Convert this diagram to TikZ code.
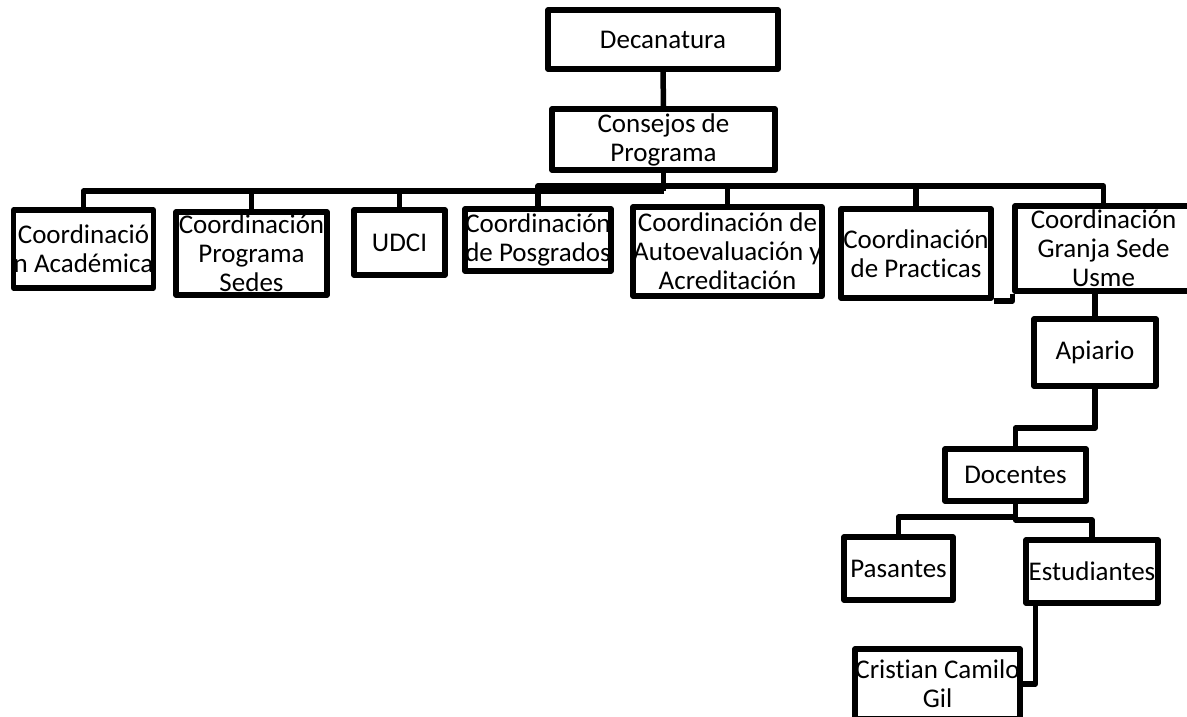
\documentclass[tikz,border=0pt]{standalone}
\usepackage{fontspec}
\setmainfont{Carlito}[Ligatures={NoCommon}]
\usetikzlibrary{calc}
\tikzset{
  bx/.style={draw, line width=5.5pt, inner sep=0pt, align=center, line join=round,
             font=\fontsize{27}{29}\selectfont},
  conn/.style={draw, line width=5.5pt, line join=round}
}
\newcommand\orgbox[6]{\node[bx, minimum width={#4-#2}, minimum height={#5-#3}] (#1) at ({(#2+#4)/2},{(#3+#5)/2}) {#6};}
\begin{document}
\begin{tikzpicture}[x=1pt,y=-1pt]
\useasboundingbox (0,0) rectangle (1187,716);
\clip (0,0) rectangle (1187,716);
\orgbox{dec}{548}{10}{778}{69}{Decanatura}
\orgbox{con}{552}{109}{775}{170}{Consejos de\\Programa}
\orgbox{aca}{14}{210}{153}{288}{Coordinació\\n Académica}
\orgbox{sed}{176}{212}{327}{295}{Coordinación\\Programa\\Sedes}
\orgbox{udc}{354}{210}{445}{275}{UDCI}
\orgbox{pos}{465}{209}{611}{271}{Coordinación\\de Posgrados}
\orgbox{aut}{634}{207}{821}{296}{Coordinación de\\Autoevaluación y\\Acreditación}
\orgbox{pra}{841}{209}{991}{298}{Coordinación\\de Practicas}
\orgbox{gra}{1015}{206}{1192}{291}{Coordinación\\Granja Sede\\Usme}
\orgbox{api}{1034}{319}{1156}{386}{Apiario}
\orgbox{doc}{945}{449}{1086}{501}{Docentes}
\orgbox{pas}{844}{537}{953}{600}{Pasantes}
\orgbox{est}{1026}{540}{1158}{603}{Estudiantes}
\orgbox{cri}{855}{649}{1020}{719}{Cristian Camilo\\Gil}
\coordinate (bl) at (0,191);
\coordinate (br) at (0,186);
\coordinate (m1) at (0,428);
\coordinate (m2) at (0,517);
\coordinate (m3) at (0,520);
% connectors
\path[conn] (dec.south) -- (con.north);
\path[conn] (con.south) -- (con.south |- bl);
\path[conn] (aca.north) -- (aca.north |- bl) -- (con.south |- bl);
\path[conn] (sed.north) -- (sed.north |- bl);
\path[conn] (udc.north) -- (udc.north |- bl);
\path[conn] (pos.north) -- (pos.north |- br) -- (gra.north |- br) -- (gra.north);
\path[conn] (aut.north) -- (aut.north |- br);
\path[conn] (pra.north) -- (pra.north |- br);
\path[conn] (pra.south east) -- (gra.south west |- pra.south east) -- (gra.south west);
\path[conn] (api.north) -- (api.north |- gra.south);
\path[conn] (api.south) |- (doc.north |- m1) -- (doc.north);
\path[conn] (doc.south) -- (doc.south |- m2) -| (pas.north);
\path[conn] (doc.south) -- (doc.south |- m3) -| (est.north);
\path[conn] ([xshift=12pt]est.south west) |- (cri.east);
\end{tikzpicture}
\end{document}
